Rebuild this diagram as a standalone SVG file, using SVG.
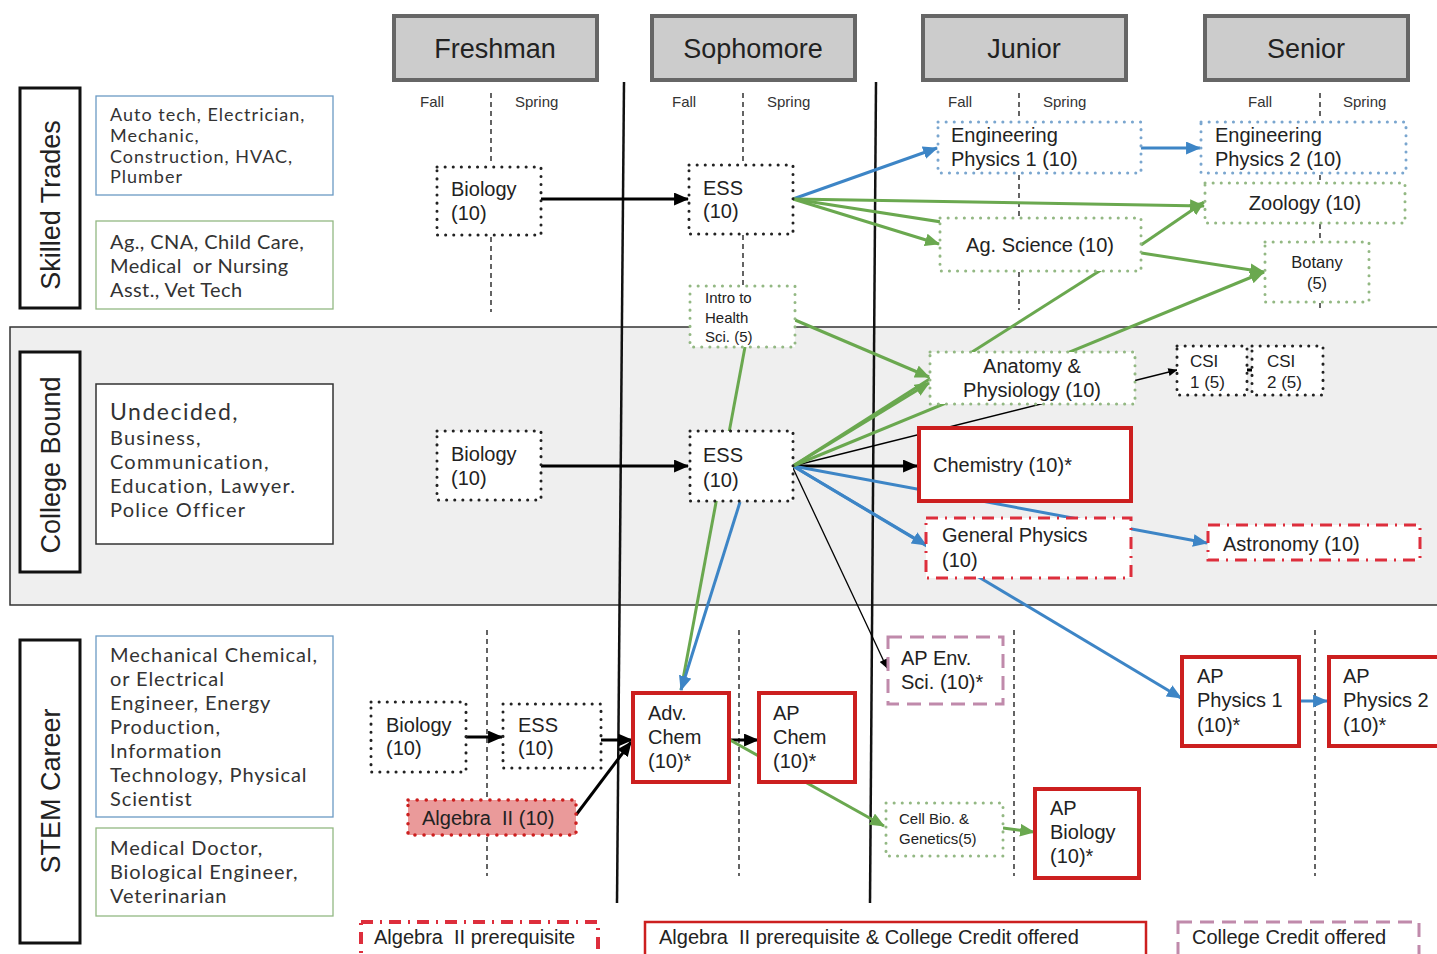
<svg xmlns="http://www.w3.org/2000/svg" width="1437" height="954" viewBox="0 0 1437 954">
<defs>
<style>
text{font-family:"Liberation Sans",Arial,sans-serif;fill:#222}
.n{font-size:20px}
.s{font-size:15px}
.fs{font-size:15px;fill:#333}
.hdr rect{fill:#ccc;stroke:#666;stroke-width:4}
.hdr text{font-size:27px;text-anchor:middle}
.lab rect{fill:#fff;stroke:#111;stroke-width:3}
.lab text{font-size:27px;text-anchor:middle}
.car text{font-family:Lato,"Open Sans",sans-serif;font-size:20px;letter-spacing:0.9px;fill:#333}
.cb{fill:#fff;stroke:#6b9ac4;stroke-width:1.3}
.cg{fill:#fff;stroke:#93b883;stroke-width:1.3}
.ck{fill:#fff;stroke:#333;stroke-width:1.5}
.dk{fill:#fff;stroke:#222;stroke-width:3;stroke-dasharray:0.1 8;stroke-linecap:round}
.dg{fill:#fff;stroke:#93b883;stroke-width:3;stroke-dasharray:0.1 8;stroke-linecap:round}
.db{fill:#fff;stroke:#7aa6cf;stroke-width:3;stroke-dasharray:0.1 8;stroke-linecap:round}
.dr{fill:#ea9a9a;stroke:#cc1f1f;stroke-width:3.5;stroke-dasharray:0.1 9;stroke-linecap:round}
.red{fill:#fff;stroke:#cc1f1f;stroke-width:4}
.dd{fill:#fff;stroke:#dd2e3c;stroke-width:3;stroke-dasharray:12 7 2 7}
.pu{fill:#fff;stroke:#c08aab;stroke-width:3;stroke-dasharray:14 8}
.div{stroke:#111;stroke-width:1.3;stroke-dasharray:5 4;fill:none}
.sol{stroke:#111;stroke-width:2.5}
.ck3{stroke:#000;stroke-width:3;fill:none}
.ck1{stroke:#000;stroke-width:1.3;fill:none}
.cbl{stroke:#3d85c6;stroke-width:3;fill:none}
.cgr{stroke:#6aa84f;stroke-width:3;fill:none}
.lg text{font-size:20px;white-space:pre}
</style>
<marker id="mk" viewBox="0 0 14 12" refX="13" refY="6" markerWidth="15" markerHeight="13" markerUnits="userSpaceOnUse" orient="auto"><path d="M0,0 L14,6 L0,12 z" fill="#000"/></marker>
<marker id="mks" viewBox="0 0 14 12" refX="13" refY="6" markerWidth="10" markerHeight="8" markerUnits="userSpaceOnUse" orient="auto"><path d="M0,0 L14,6 L0,12 z" fill="#000"/></marker>
<marker id="mb" viewBox="0 0 14 12" refX="13" refY="6" markerWidth="15" markerHeight="13" markerUnits="userSpaceOnUse" orient="auto"><path d="M0,0 L14,6 L0,12 z" fill="#3d85c6"/></marker>
<marker id="mg" viewBox="0 0 14 12" refX="13" refY="6" markerWidth="15" markerHeight="13" markerUnits="userSpaceOnUse" orient="auto"><path d="M0,0 L14,6 L0,12 z" fill="#6aa84f"/></marker>
</defs>
<rect width="1437" height="954" fill="#fff"/>
<rect x="10" y="327" width="1440" height="278" fill="#efefef" stroke="#333" stroke-width="1.5"/>

<g id="grid">
<line class="sol" x1="624" y1="82" x2="617" y2="903"/>
<line class="sol" x1="876" y1="82" x2="870" y2="903"/>
<path class="div" d="M491,93V165M491,237V312M743,93V165M743,235V286M1019,93V120M1019,175V217M1019,272V310M1320,93V120M1320,175V182M1320,224V241M1320,303V310M487,630V876M739,630V876M1014,630V876M1315,630V876"/>
<text class="fs" x="420" y="107">Fall</text><text class="fs" x="515" y="107">Spring</text>
<text class="fs" x="672" y="107">Fall</text><text class="fs" x="767" y="107">Spring</text>
<text class="fs" x="948" y="107">Fall</text><text class="fs" x="1043" y="107">Spring</text>
<text class="fs" x="1248" y="107">Fall</text><text class="fs" x="1343" y="107">Spring</text>
</g>

<g id="h-freshman" class="hdr"><rect x="394" y="16" width="203" height="64"/><text x="495" y="58">Freshman</text></g>
<g id="h-sophomore" class="hdr"><rect x="652" y="16" width="203" height="64"/><text x="753" y="58">Sophomore</text></g>
<g id="h-junior" class="hdr"><rect x="923" y="16" width="203" height="64"/><text x="1024" y="58">Junior</text></g>
<g id="h-senior" class="hdr"><rect x="1205" y="16" width="203" height="64"/><text x="1306" y="58">Senior</text></g>

<g id="lab-skilled" class="lab"><rect x="20" y="88" width="60" height="220"/><text transform="translate(60,205) rotate(-90)">Skilled Trades</text></g>
<g id="lab-college" class="lab"><rect x="20" y="352" width="60" height="220"/><text transform="translate(60,465) rotate(-90)">College Bound</text></g>
<g id="lab-stem" class="lab"><rect x="20" y="640" width="60" height="303"/><text transform="translate(60,791) rotate(-90)">STEM Career</text></g>

<g id="car-trades" class="car"><rect class="cb" x="96" y="96" width="237" height="99"/>
<text x="110" y="121" style="font-size:18px;letter-spacing:1px">Auto tech, Electrician,</text><text x="110" y="142" style="font-size:18px;letter-spacing:1px">Mechanic,</text><text x="110" y="163" style="font-size:18px;letter-spacing:1px">Construction, HVAC,</text><text x="110" y="183" style="font-size:18px;letter-spacing:1px">Plumber</text></g>
<g id="car-health" class="car"><rect class="cg" x="96" y="221" width="237" height="88"/>
<text x="110" y="249" style="letter-spacing:0.4px">Ag., CNA, Child Care,</text><text x="110" y="273" style="letter-spacing:0.4px;white-space:pre">Medical  or Nursing</text><text x="110" y="297" style="letter-spacing:0.4px">Asst., Vet Tech</text></g>
<g id="car-college" class="car"><rect class="ck" x="96" y="384" width="237" height="160"/>
<text x="110" y="420" style="font-size:23px;letter-spacing:1.5px">Undecided,</text><text x="110" y="445" style="letter-spacing:1.2px">Business,</text><text x="110" y="469" style="letter-spacing:1.2px">Communication,</text><text x="110" y="493" style="letter-spacing:1.2px">Education, Lawyer.</text><text x="110" y="517" style="letter-spacing:1.2px">Police Officer</text></g>
<g id="car-stem-eng" class="car"><rect class="cb" x="96" y="636" width="237" height="181"/>
<text x="110" y="662">Mechanical Chemical,</text><text x="110" y="686">or Electrical</text><text x="110" y="710">Engineer, Energy</text><text x="110" y="734">Production,</text><text x="110" y="758">Information</text><text x="110" y="782">Technology, Physical</text><text x="110" y="806">Scientist</text></g>
<g id="car-stem-med" class="car"><rect class="cg" x="96" y="828" width="237" height="88"/>
<text x="110" y="855">Medical Doctor,</text><text x="110" y="879">Biological Engineer,</text><text x="110" y="903">Veterinarian</text></g>

<g id="connectors">
<line class="ck3" x1="541" y1="199" x2="688" y2="199" marker-end="url(#mk)"/>
<line class="ck3" x1="541" y1="466" x2="688" y2="466" marker-end="url(#mk)"/>
<line class="ck3" x1="793" y1="466" x2="917" y2="466" marker-end="url(#mk)"/>
<line class="ck3" x1="466" y1="737" x2="502" y2="737" marker-end="url(#mk)"/>
<line class="ck3" x1="601" y1="740" x2="632" y2="740" marker-end="url(#mk)"/>
<line class="ck3" x1="576" y1="815" x2="631" y2="742" marker-end="url(#mk)"/>
<line class="ck3" x1="729" y1="740" x2="758" y2="740" marker-end="url(#mk)"/>
<line class="ck1" x1="793" y1="468" x2="887" y2="668" marker-end="url(#mks)"/>
<line class="ck1" x1="793" y1="466" x2="1177" y2="370" marker-end="url(#mks)"/>
<line class="ck3" x1="1246" y1="370" x2="1266" y2="370" marker-end="url(#mk)"/>
<line class="cbl" x1="793" y1="199" x2="937" y2="148" marker-end="url(#mb)"/>
<line class="cbl" x1="1141" y1="148" x2="1200" y2="148" marker-end="url(#mb)"/>
<line class="cbl" x1="793" y1="466" x2="1207" y2="543" marker-end="url(#mb)"/>
<line class="cbl" x1="793" y1="466" x2="926" y2="545" marker-end="url(#mb)"/>
<line class="cbl" x1="793" y1="466" x2="1181" y2="698" marker-end="url(#mb)"/>
<line class="cbl" x1="1299" y1="701" x2="1327" y2="701" marker-end="url(#mb)"/>
<line class="cgr" x1="745" y1="347" x2="681" y2="690"/>
<line class="cbl" x1="740" y1="502" x2="681" y2="690" marker-end="url(#mb)"/>
<line class="cgr" x1="793" y1="199" x2="1204" y2="206" marker-end="url(#mg)"/>
<line class="cgr" x1="793" y1="199" x2="1264" y2="272" marker-end="url(#mg)"/>
<line class="cgr" x1="793" y1="199" x2="939" y2="244" marker-end="url(#mg)"/>
<line class="cgr" x1="1141" y1="245" x2="1204" y2="202" marker-end="url(#mg)"/>
<line class="cgr" x1="795" y1="320" x2="929" y2="377" marker-end="url(#mg)"/>
<line class="cgr" x1="793" y1="466" x2="929" y2="383" marker-end="url(#mg)"/>
<line class="cgr" x1="793" y1="466" x2="1101" y2="270"/>
<line class="cgr" x1="793" y1="466" x2="1264" y2="272" marker-end="url(#mg)"/>
<line class="cgr" x1="730" y1="740" x2="884" y2="826" marker-end="url(#mg)"/>
<line class="cgr" x1="1003" y1="828" x2="1034" y2="832" marker-end="url(#mg)"/>
</g>

<g id="n-bio-st"><rect class="dk" x="437" y="167" width="104" height="68"/><text class="n" x="451" y="196">Biology</text><text class="n" x="451" y="220">(10)</text></g>
<g id="n-ess-st"><rect class="dk" x="689" y="165" width="104" height="69"/><text class="n" x="703" y="195">ESS</text><text class="n" x="703" y="218">(10)</text></g>
<g id="n-intro"><rect class="dg" x="690" y="286" width="105" height="61"/><text class="s" x="705" y="303">Intro to</text><text class="s" x="705" y="323">Health</text><text class="s" x="705" y="342">Sci. (5)</text></g>
<g id="n-ep1"><rect class="db" x="938" y="122" width="203" height="51"/><text class="n" x="951" y="142">Engineering</text><text class="n" x="951" y="166">Physics 1 (10)</text></g>
<g id="n-ep2"><rect class="db" x="1201" y="122" width="205" height="51"/><text class="n" x="1215" y="142">Engineering</text><text class="n" x="1215" y="166">Physics 2 (10)</text></g>
<g id="n-zoo"><rect class="dg" x="1205" y="183" width="200" height="40"/><text class="n" x="1305" y="210" text-anchor="middle">Zoology (10)</text></g>
<g id="n-ag"><rect class="dg" x="940" y="218" width="201" height="53"/><text class="n" x="1040" y="252" text-anchor="middle">Ag. Science (10)</text></g>
<g id="n-botany"><rect class="dg" x="1265" y="242" width="104" height="60"/><text x="1317" y="268" text-anchor="middle" style="font-size:16.5px">Botany</text><text x="1317" y="289" text-anchor="middle" style="font-size:16.5px">(5)</text></g>
<g id="n-bio-cb"><rect class="dk" x="437" y="431" width="104" height="69"/><text class="n" x="451" y="461">Biology</text><text class="n" x="451" y="485">(10)</text></g>
<g id="n-ess-cb"><rect class="dk" x="690" y="431" width="103" height="70"/><text class="n" x="703" y="462">ESS</text><text class="n" x="703" y="487">(10)</text></g>
<g id="n-anat"><rect class="dg" x="930" y="352" width="205" height="52"/><text class="n" x="1032" y="373" text-anchor="middle">Anatomy &amp;</text><text class="n" x="1032" y="397" text-anchor="middle">Physiology (10)</text></g>
<g id="n-csi1"><rect class="dk" x="1177" y="346" width="70" height="49"/><text x="1190" y="367" style="font-size:17px">CSI</text><text x="1190" y="388" style="font-size:17px">1 (5)</text></g>
<g id="n-csi2"><rect class="dk" x="1252" y="346" width="71" height="49"/><text x="1267" y="367" style="font-size:17px">CSI</text><text x="1267" y="388" style="font-size:17px">2 (5)</text></g>
<g id="n-chem"><rect class="red" x="919" y="428" width="212" height="73"/><text class="n" x="933" y="472">Chemistry (10)*</text></g>
<g id="n-gphys"><rect class="dd" x="926" y="518" width="205" height="60"/><text class="n" x="942" y="542">General Physics</text><text class="n" x="942" y="567">(10)</text></g>
<g id="n-astro"><rect class="dd" x="1208" y="525" width="212" height="35"/><text class="n" x="1223" y="551">Astronomy (10)</text></g>
<g id="n-apenv"><rect class="pu" x="888" y="637" width="115" height="67"/><text class="n" x="901" y="665">AP Env.</text><text class="n" x="901" y="689">Sci. (10)*</text></g>
<g id="n-bio-stem"><rect class="dk" x="371" y="702" width="95" height="70"/><text class="n" x="386" y="732">Biology</text><text class="n" x="386" y="755">(10)</text></g>
<g id="n-ess-stem"><rect class="dk" x="503" y="704" width="98" height="64"/><text class="n" x="518" y="732">ESS</text><text class="n" x="518" y="755">(10)</text></g>
<g id="n-alg"><rect class="dr" x="408" y="800" width="168" height="35"/><text class="n" x="422" y="825" style="white-space:pre">Algebra  II (10)</text></g>
<g id="n-advchem"><rect class="red" x="633" y="693" width="96" height="89"/><text class="n" x="648" y="720">Adv.</text><text class="n" x="648" y="744">Chem</text><text class="n" x="648" y="768">(10)*</text></g>
<g id="n-apchem"><rect class="red" x="759" y="693" width="96" height="89"/><text class="n" x="773" y="720">AP</text><text class="n" x="773" y="744">Chem</text><text class="n" x="773" y="768">(10)*</text></g>
<g id="n-cellbio"><rect class="dg" x="886" y="803" width="117" height="53"/><text class="s" x="899" y="824">Cell Bio. &amp;</text><text class="s" x="899" y="844">Genetics(5)</text></g>
<g id="n-apbio"><rect class="red" x="1035" y="789" width="104" height="89"/><text class="n" x="1050" y="815">AP</text><text class="n" x="1050" y="839">Biology</text><text class="n" x="1050" y="863">(10)*</text></g>
<g id="n-apphys1"><rect class="red" x="1182" y="657" width="117" height="89"/><text class="n" x="1197" y="683">AP</text><text class="n" x="1197" y="707">Physics 1</text><text class="n" x="1197" y="732">(10)*</text></g>
<g id="n-apphys2"><rect class="red" x="1329" y="657" width="120" height="89"/><text class="n" x="1343" y="683">AP</text><text class="n" x="1343" y="707">Physics 2</text><text class="n" x="1343" y="732">(10)*</text></g>

<g id="legend" class="lg">
<g id="lg-alg"><rect class="dd" x="361" y="922" width="237" height="40" style="stroke-width:4"/><text x="374" y="944">Algebra  II prerequisite</text></g>
<g id="lg-algcc"><rect x="645" y="922" width="501" height="40" fill="#fff" stroke="#cc1f1f" stroke-width="2.5"/><text x="659" y="944">Algebra  II prerequisite &amp; College Credit offered</text></g>
<g id="lg-cc"><rect class="pu" x="1178" y="922" width="241" height="40"/><text x="1192" y="944">College Credit offered</text></g>
</g>
</svg>
